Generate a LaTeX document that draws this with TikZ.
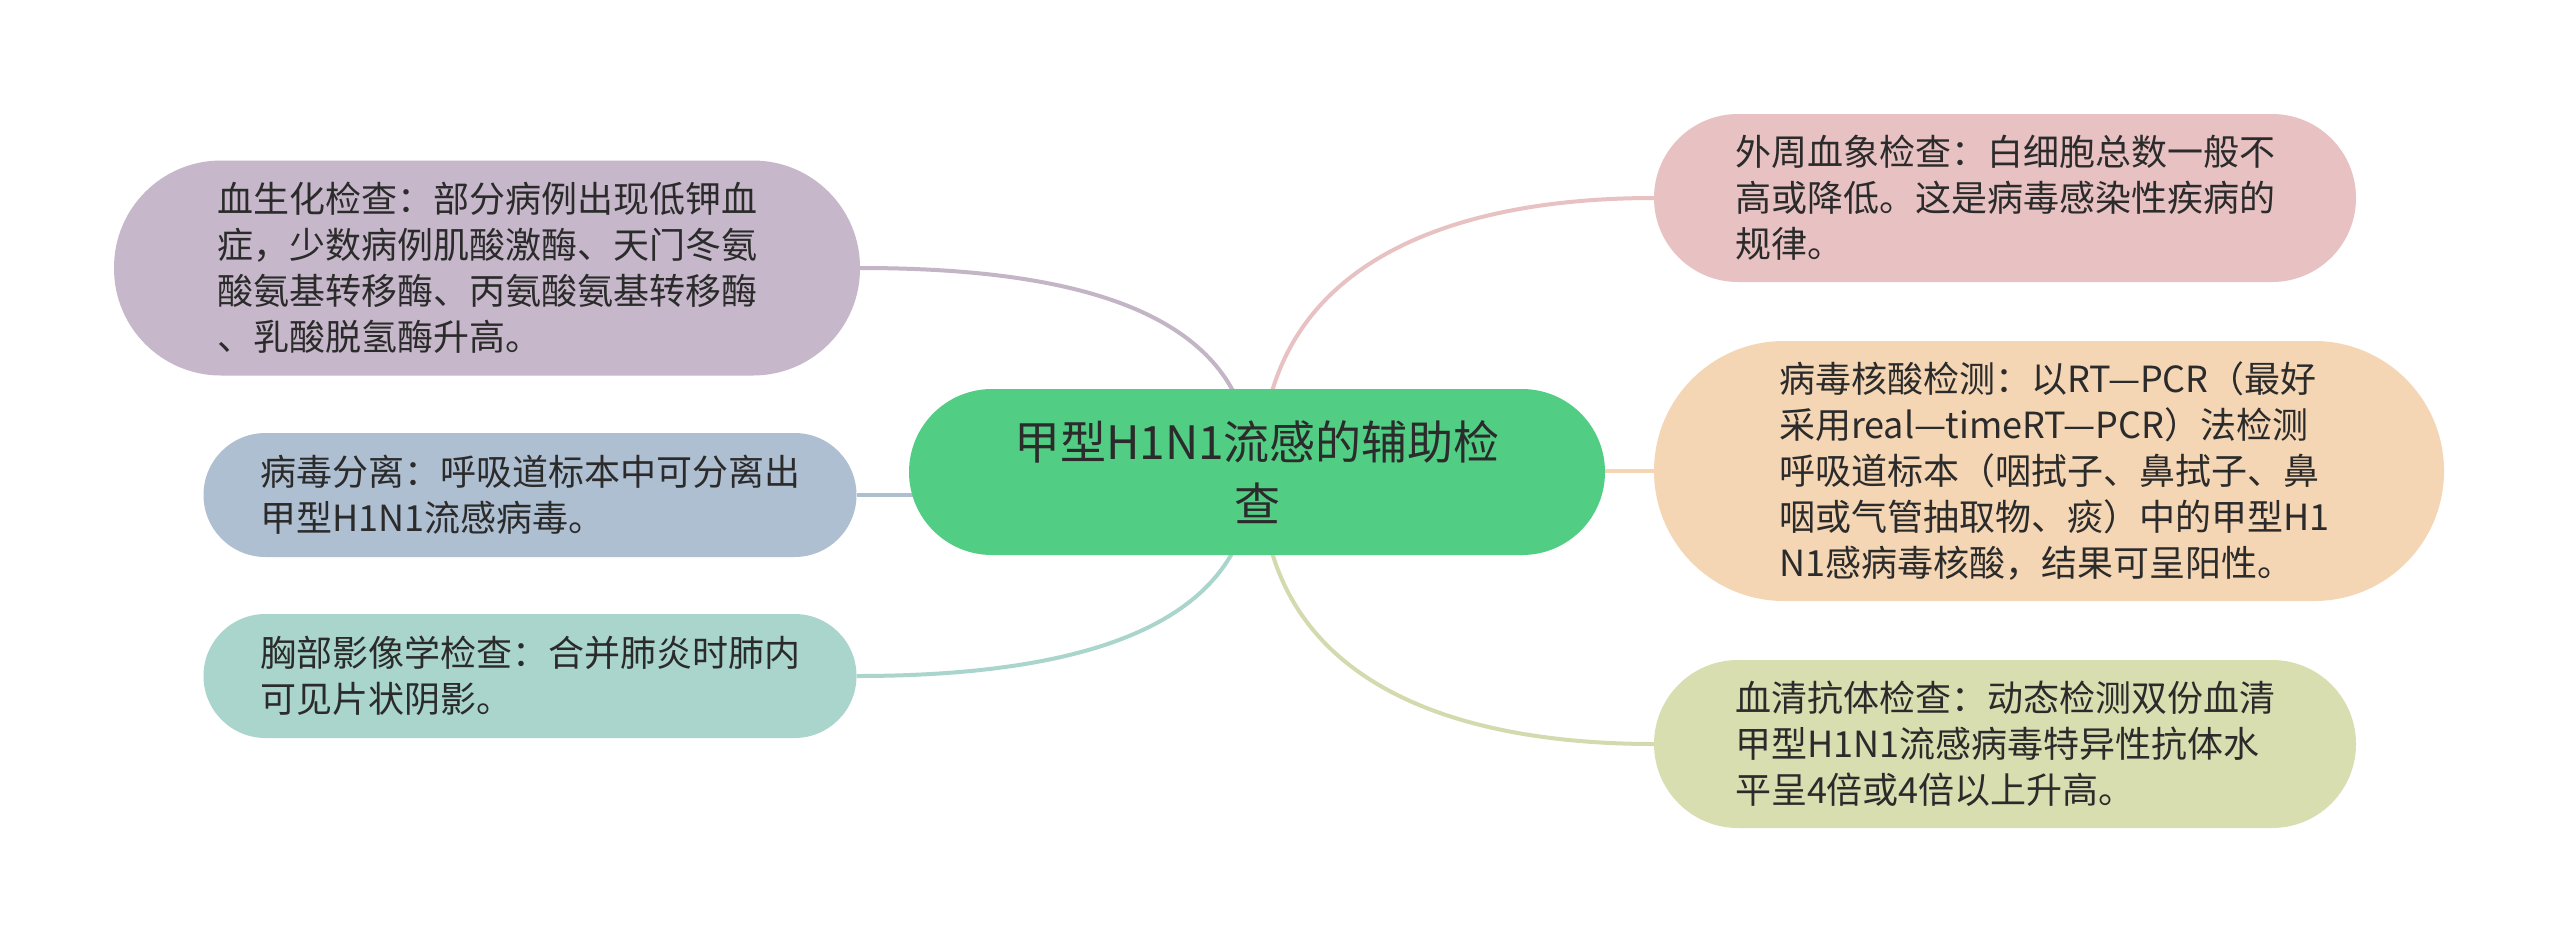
\documentclass[tikz,border=0pt]{standalone}
\usepackage{fontspec}
\setmainfont{Noto Sans CJK SC}
\usetikzlibrary{backgrounds}

\definecolor{rootgreen}{HTML}{52CD84}
\definecolor{inkgray}{HTML}{2B2B2B}
\definecolor{lilacfill}{HTML}{C6B8CA}
\definecolor{slatefill}{HTML}{AFBFD2}
\definecolor{tealfill}{HTML}{A9D5CC}
\definecolor{rosefill}{HTML}{E8C1C2}
\definecolor{peachfill}{HTML}{F4D5B4}
\definecolor{olivefill}{HTML}{D9DEB0}

\begin{document}
\begin{tikzpicture}[x=1pt,y=-1pt,
	main node/.style={rectangle,fill=rootgreen,text=inkgray,align=center,inner sep=0pt,
		font=\fontsize{46}{62}\selectfont,minimum width=696,minimum height=166,rounded corners=83pt},
	leaf node/.style={rectangle,text=inkgray,align=left,inner sep=0pt,text width=540pt,
		font=\fontsize{36}{46}\selectfont},
	link/.style={line width=4pt}]
	\useasboundingbox (0,0) rectangle (2560,943);

	\node[main node] (root) at (1257,472) {甲型H1N1流感的辅助检\\查};

	% left side
	\node[leaf node,fill=lilacfill,minimum width=746,minimum height=215,rounded corners=107pt] (blood) at (487,268)
		{血生化检查：部分病例出现低钾血\\症，少数病例肌酸激酶、天门冬氨\\酸氨基转移酶、丙氨酸氨基转移酶\\、乳酸脱氢酶升高。};
	\node[leaf node,fill=slatefill,minimum width=653,minimum height=124,rounded corners=62pt] (virus) at (530,495)
		{病毒分离：呼吸道标本中可分离出\\甲型H1N1流感病毒。};
	\node[leaf node,fill=tealfill,minimum width=653,minimum height=124,rounded corners=62pt] (chest) at (530,676)
		{胸部影像学检查：合并肺炎时肺内\\可见片状阴影。};

	% right side
	\node[leaf node,fill=rosefill,minimum width=702,minimum height=168,rounded corners=84pt] (periph) at (2005,198)
		{外周血象检查：白细胞总数一般不\\高或降低。这是病毒感染性疾病的\\规律。};
	\node[leaf node,fill=peachfill,minimum width=790,minimum height=260,rounded corners=130pt] (nucleic) at (2049,471)
		{病毒核酸检测：以RT—PCR（最好\\采用real—timeRT—PCR）法检测\\呼吸道标本（咽拭子、鼻拭子、鼻\\咽或气管抽取物、痰）中的甲型H1\\N1感病毒核酸，结果可呈阳性。};
	\node[leaf node,fill=olivefill,minimum width=702,minimum height=168,rounded corners=84pt] (serum) at (2005,744)
		{血清抗体检查：动态检测双份血清\\甲型H1N1流感病毒特异性抗体水\\平呈4倍或4倍以上升高。};

	\begin{scope}[on background layer]
		\fill[white] (0,0) rectangle (2560,943);
		\draw[link,lilacfill!95!gray] ([xshift=-5pt]root.center) .. controls +(0,-152) and +(235,0) .. (blood.east);
		\draw[link,tealfill] ([xshift=-5pt]root.center) .. controls +(0,152) and +(230,0) .. (chest.east);
		\draw[link,slatefill] (virus.east) -- (virus.east -| root.center);
		\draw[link,rosefill] ([xshift=4pt]root.center) .. controls +(0,-202) and +(-215,0) .. (periph.west);
		\draw[link,peachfill] (nucleic.west) -- (nucleic.west -| root.center);
		\draw[link,olivefill!95!gray] ([xshift=4pt]root.center) .. controls +(0,202) and +(-215,0) .. (serum.west);
	\end{scope}
\end{tikzpicture}
\end{document}
